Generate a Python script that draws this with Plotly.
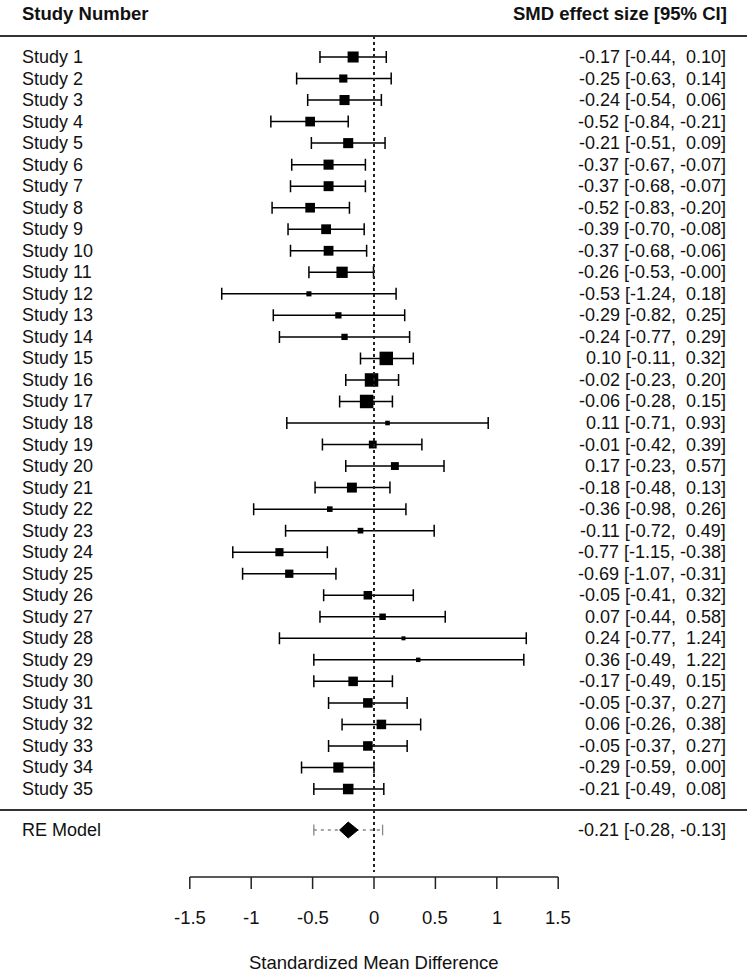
import plotly.graph_objects as go
import numpy as np

studies = [f"Study {i}" for i in range(1, 36)]
est = [-0.17, -0.25, -0.24, -0.52, -0.21, -0.37, -0.37, -0.52, -0.39, -0.37,
       -0.26, -0.53, -0.29, -0.24, 0.10, -0.02, -0.06, 0.11, -0.01, 0.17,
       -0.18, -0.36, -0.11, -0.77, -0.69, -0.05, 0.07, 0.24, 0.36, -0.17,
       -0.05, 0.06, -0.05, -0.29, -0.21]
ci_lo = [-0.44, -0.63, -0.54, -0.84, -0.51, -0.67, -0.68, -0.83, -0.70, -0.68,
         -0.53, -1.24, -0.82, -0.77, -0.11, -0.23, -0.28, -0.71, -0.42, -0.23,
         -0.48, -0.98, -0.72, -1.15, -1.07, -0.41, -0.44, -0.77, -0.49, -0.49,
         -0.37, -0.26, -0.37, -0.59, -0.49]
ci_hi = [0.10, 0.14, 0.06, -0.21, 0.09, -0.07, -0.07, -0.20, -0.08, -0.06,
         -0.004, 0.18, 0.25, 0.29, 0.32, 0.20, 0.15, 0.93, 0.39, 0.57,
         0.13, 0.26, 0.49, -0.38, -0.31, 0.32, 0.58, 1.24, 1.22, 0.15,
         0.27, 0.38, 0.27, 0.00, 0.08]
re_est, re_lo, re_hi = -0.21, -0.28, -0.13
re_pi_lo, re_pi_hi = -0.49, 0.07
tick_vals = [-1.5, -1, -0.5, 0, 0.5, 1, 1.5]
tick_text = ["-1.5", "-1", "-0.5", "0", "0.5", "1", "1.5"]

W, H = 747, 973
row0_px, pitch = 57.0, 21.53
def prow(px):
    return 1 + (px - row0_px) / pitch

est_a = np.array(est); lo_a = np.array(ci_lo); hi_a = np.array(ci_hi)
rows = np.arange(1, len(studies) + 1)
inv = 1 / (hi_a - lo_a)
sizes = 4 + 9.5 * (inv - inv.min()) / (inv.max() - inv.min())

FONT = "Liberation Sans, Arial, sans-serif"
TXT = "#111"
FS = 18

fig = go.Figure()
fig.add_trace(go.Scatter(
    x=est_a, y=rows, mode="markers",
    marker=dict(symbol="square", size=sizes, color="black", opacity=1, line=dict(width=0)),
    error_x=dict(type="data", symmetric=False, array=hi_a - est_a,
                 arrayminus=est_a - lo_a, width=6, thickness=1.5, color="black"),
    showlegend=False, hoverinfo="skip"))

re_row = prow(830)
fig.add_trace(go.Scatter(x=[re_pi_lo, re_pi_hi], y=[re_row, re_row], mode="lines",
                         line=dict(color="#888", width=1.3, dash="3px,4px"),
                         showlegend=False, hoverinfo="skip"))
for xv in (re_pi_lo, re_pi_hi):
    fig.add_trace(go.Scatter(x=[xv, xv], y=[re_row - 0.25, re_row + 0.25], mode="lines",
                             line=dict(color="#888", width=1.3),
                             showlegend=False, hoverinfo="skip"))
hd = 0.37
fig.add_trace(go.Scatter(x=[re_lo, re_est, re_hi, re_est, re_lo],
                         y=[re_row, re_row - hd, re_row, re_row + hd, re_row],
                         mode="lines", fill="toself", fillcolor="black",
                         line=dict(color="black", width=1),
                         showlegend=False, hoverinfo="skip"))

shapes = []
shapes.append(dict(type="line", xref="x", yref="y", x0=0, x1=0,
                   y0=prow(36), y1=prow(872), line=dict(color="#222", width=2, dash="dot")))
for ypx in (36, 810):
    shapes.append(dict(type="line", xref="paper", yref="y", x0=0, x1=1,
                       y0=prow(ypx), y1=prow(ypx), line=dict(color="#333", width=2)))
ax_y = prow(877)
shapes.append(dict(type="line", xref="x", yref="y", x0=tick_vals[0], x1=tick_vals[-1],
                   y0=ax_y, y1=ax_y, line=dict(color="#222", width=1.5)))
for tv in tick_vals:
    shapes.append(dict(type="line", xref="x", yref="y", x0=tv, x1=tv,
                       y0=ax_y, y1=prow(889), line=dict(color="#222", width=1.5)))

ann = []
ann.append(dict(x=20 / W, xref="paper", y=prow(13), yref="y", text="<b>Study Number</b>",
                xanchor="left", yanchor="middle", showarrow=False,
                font=dict(family=FONT, size=18.5, color=TXT)))
ann.append(dict(x=729 / W, xref="paper", y=prow(13), yref="y", text="<b>SMD effect size [95% CI]</b>",
                xanchor="right", yanchor="middle", showarrow=False,
                font=dict(family=FONT, size=18.5, color=TXT)))

def fmt(v):
    s = f"{v:.2f}"
    return s if s.startswith("-") else "\u00a0" + s

for i, name in enumerate(studies):
    ann.append(dict(x=20 / W, xref="paper", y=rows[i], yref="y", text=name,
                    xanchor="left", yanchor="middle", showarrow=False,
                    font=dict(family=FONT, size=FS, color=TXT)))
    lab = f"{fmt(est[i])} [{fmt(ci_lo[i])},\u00a0{fmt(ci_hi[i])}]"
    ann.append(dict(x=728 / W, xref="paper", y=rows[i], yref="y", text=lab,
                    xanchor="right", yanchor="middle", showarrow=False,
                    font=dict(family=FONT, size=FS, color=TXT)))
ann.append(dict(x=20 / W, xref="paper", y=re_row, yref="y", text="RE Model",
                xanchor="left", yanchor="middle", showarrow=False,
                font=dict(family=FONT, size=FS, color=TXT)))
ann.append(dict(x=728 / W, xref="paper", y=re_row, yref="y",
                text=f"{fmt(re_est)} [{fmt(re_lo)},\u00a0{fmt(re_hi)}]",
                xanchor="right", yanchor="middle", showarrow=False,
                font=dict(family=FONT, size=FS, color=TXT)))
for tv, tt in zip(tick_vals, tick_text):
    ann.append(dict(x=tv, xref="x", y=prow(917), yref="y", text=tt,
                    xanchor="center", yanchor="middle", showarrow=False,
                    font=dict(family=FONT, size=18.5, color=TXT)))
ann.append(dict(x=0, xref="x", y=prow(962), yref="y", text="Standardized Mean Difference",
                xanchor="center", yanchor="middle", showarrow=False,
                font=dict(family=FONT, size=18.5, color=TXT)))

x0 = -374 / 122.8
x1 = (W - 374) / 122.8
fig.update_layout(
    width=W, height=H, autosize=False,
    margin=dict(l=0, r=0, t=0, b=0),
    paper_bgcolor="white", plot_bgcolor="white",
    xaxis=dict(range=[x0, x1], visible=False, fixedrange=True),
    yaxis=dict(range=[prow(H), prow(0)], visible=False, fixedrange=True),
    shapes=shapes, annotations=ann, showlegend=False,
)
fig.write_html("out.html", config={"displayModeBar": False},
               post_script="document.body.style.margin='0';document.body.style.overflow='hidden';")
